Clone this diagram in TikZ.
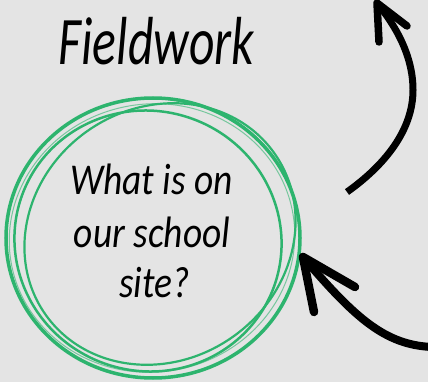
\documentclass[tikz,border=0pt]{standalone}
\usepackage{fontspec}
\setmainfont{Carlito}
\definecolor{bg}{HTML}{E4E4E4}
\definecolor{grn}{HTML}{2DB46E}
\begin{document}
\begin{tikzpicture}[x=1pt,y=-1pt,
  stroke/.style={draw=grn, line cap=round},
  arr/.style={line width=7.5pt, line cap=round, line join=round},
  shaft/.style={line width=7pt, line cap=butt},
  txt/.style={anchor=base, inner sep=0pt}]
\fill[bg] (0,0) rectangle (428,382);
\useasboundingbox (0,0) rectangle (428,382);
% title
\node[txt, font=\fontsize{68}{68}\selectfont\itshape] (title) at (156.5,65) {\scalebox{0.73}[1]{Fieldwork}};
% circle strokes
\draw[stroke, line width=3.5pt] (153,238) ellipse [x radius=147, y radius=140];
\draw[stroke, line width=2.5pt, rotate around={-20:(148,241)}] (148,241) ellipse [x radius=134, y radius=130];
\draw[stroke, line width=2.2pt, rotate around={35:(160,234)}] (160,234) ellipse [x radius=140, y radius=126];
\draw[stroke, line width=1pt, opacity=0.6, rotate around={10:(152,238)}] (152,238) ellipse [x radius=143, y radius=134];
% inner text
\node[txt, font=\fontsize{44}{44}\selectfont\itshape] (l1) at (151.5,195) {\scalebox{0.85}[1]{What is on}};
\node[txt, font=\fontsize{44}{44}\selectfont\itshape] (l2) at (152,247) {\scalebox{0.85}[1]{our school}};
\node[txt, font=\fontsize{44}{44}\selectfont\itshape] (l3) at (154.5,297) {\scalebox{0.85}[1]{site?}};
% arrow 1
\coordinate (a1tail) at (347,192);
\coordinate (a1tip) at (377,3);
\draw[shaft] (a1tail) .. controls (385,165) and (413,130) .. (413,90) .. controls (413,55) and (395,25) .. (a1tip);
\draw[arr] (379,42) -- (a1tip) -- (407,26);
% arrow 2
\coordinate (a2tail) at (432,347);
\coordinate (a2tip) at (303,257);
\draw[shaft, line width=8pt] (a2tail) .. controls (385,345) and (355,318) .. (a2tip);
\draw[arr, line width=8.5pt] (314,312) -- (a2tip) -- (355,287);
\end{tikzpicture}
\end{document}
